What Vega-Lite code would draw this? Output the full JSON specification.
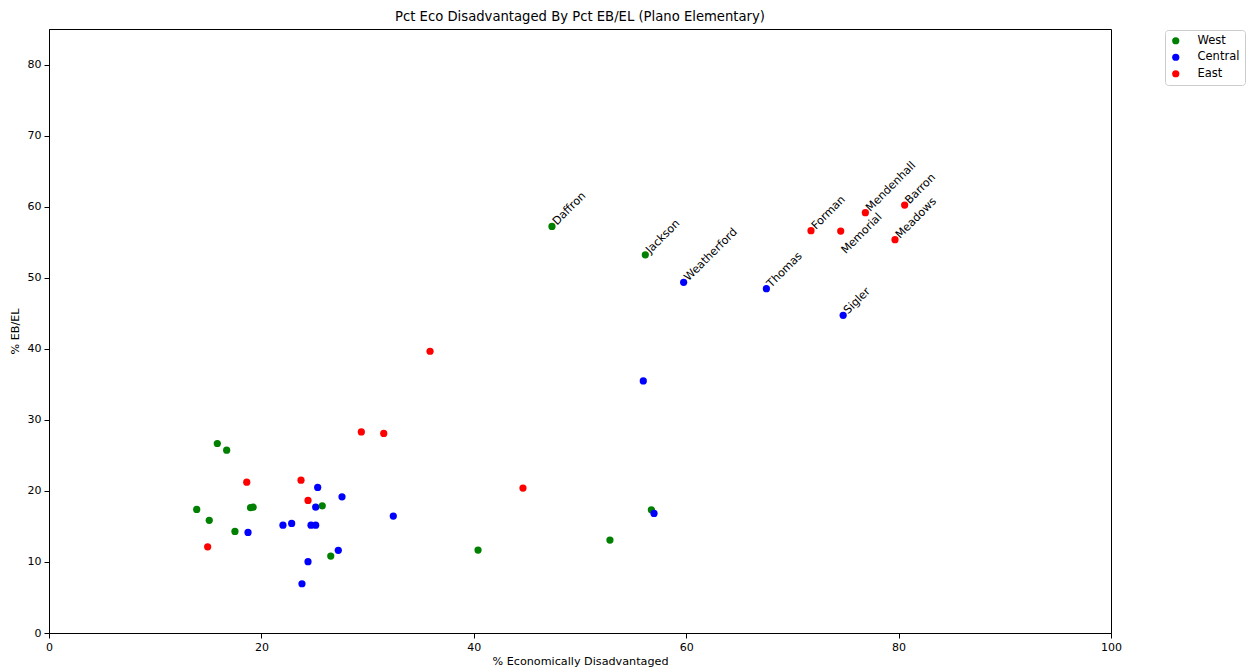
{
  "$schema": "https://vega.github.io/schema/vega-lite/v6.json",
  "width": 1062,
  "height": 604,
  "autosize": {"type": "none"},
  "padding": {"left": 49, "top": 29, "right": 136, "bottom": 36},
  "background": "white",
  "config": {
    "font": "DejaVu Sans",
    "view": {"stroke": "#000", "strokeWidth": 1},
    "axis": {
      "grid": false,
      "domainColor": "#000",
      "tickColor": "#000",
      "tickSize": 5,
      "labelFontSize": 11,
      "labelColor": "#000",
      "labelFlush": false,
      "titleFontSize": 11.2,
      "titleFontWeight": "normal",
      "titleColor": "#000",
      "labelPadding": 3
    },
    "title": {"fontSize": 13.2, "fontWeight": "normal", "color": "#000", "offset": 5}
  },
  "title": {"text": "Pct Eco Disadvantaged By Pct EB/EL (Plano Elementary)", "anchor": "middle"},
  "data": {
    "values": [
      {"school": null, "region": "West", "eco": 15.85, "ebel": 26.67},
      {"school": null, "region": "West", "eco": 16.73, "ebel": 25.73},
      {"school": null, "region": "West", "eco": 13.91, "ebel": 17.39},
      {"school": null, "region": "West", "eco": 15.09, "ebel": 15.85},
      {"school": null, "region": "West", "eco": 17.51, "ebel": 14.3},
      {"school": null, "region": "West", "eco": 18.98, "ebel": 17.64},
      {"school": null, "region": "West", "eco": 19.22, "ebel": 17.7},
      {"school": null, "region": "West", "eco": 25.73, "ebel": 17.9},
      {"school": null, "region": "West", "eco": 26.53, "ebel": 10.83},
      {"school": null, "region": "West", "eco": 40.4, "ebel": 11.67},
      {"school": null, "region": "West", "eco": 52.82, "ebel": 13.08},
      {"school": null, "region": "West", "eco": 56.72, "ebel": 17.34},
      {"school": "Daffron", "region": "West", "eco": 47.36, "ebel": 57.22},
      {"school": "Jackson", "region": "West", "eco": 56.15, "ebel": 53.22},
      {"school": null, "region": "Central", "eco": 25.3, "ebel": 20.48},
      {"school": null, "region": "Central", "eco": 27.59, "ebel": 19.16},
      {"school": null, "region": "Central", "eco": 25.11, "ebel": 17.72},
      {"school": null, "region": "Central", "eco": 32.42, "ebel": 16.45},
      {"school": null, "region": "Central", "eco": 18.74, "ebel": 14.16},
      {"school": null, "region": "Central", "eco": 22.03, "ebel": 15.18},
      {"school": null, "region": "Central", "eco": 22.85, "ebel": 15.42},
      {"school": null, "region": "Central", "eco": 24.67, "ebel": 15.18},
      {"school": null, "region": "Central", "eco": 25.11, "ebel": 15.18},
      {"school": null, "region": "Central", "eco": 27.24, "ebel": 11.63},
      {"school": null, "region": "Central", "eco": 24.39, "ebel": 10.03},
      {"school": null, "region": "Central", "eco": 23.82, "ebel": 6.93},
      {"school": null, "region": "Central", "eco": 55.96, "ebel": 35.47},
      {"school": null, "region": "Central", "eco": 56.97, "ebel": 16.83},
      {"school": "Weatherford", "region": "Central", "eco": 59.76, "ebel": 49.35},
      {"school": "Thomas", "region": "Central", "eco": 67.55, "ebel": 48.46},
      {"school": "Sigler", "region": "Central", "eco": 74.78, "ebel": 44.71},
      {"school": null, "region": "East", "eco": 29.41, "ebel": 28.3},
      {"school": null, "region": "East", "eco": 31.52, "ebel": 28.08},
      {"school": null, "region": "East", "eco": 18.62, "ebel": 21.23},
      {"school": null, "region": "East", "eco": 23.73, "ebel": 21.51},
      {"school": null, "region": "East", "eco": 24.39, "ebel": 18.66},
      {"school": null, "region": "East", "eco": 14.94, "ebel": 12.13},
      {"school": null, "region": "East", "eco": 35.88, "ebel": 39.65},
      {"school": null, "region": "East", "eco": 44.63, "ebel": 20.39},
      {"school": "Forman", "region": "East", "eco": 71.75, "ebel": 56.62},
      {"school": "Memorial", "region": "East", "eco": 74.55, "ebel": 56.57},
      {"school": "Mendenhall", "region": "East", "eco": 76.87, "ebel": 59.15},
      {"school": "Barron", "region": "East", "eco": 80.57, "ebel": 60.22},
      {"school": "Meadows", "region": "East", "eco": 79.66, "ebel": 55.35}
    ]
  },
  "encoding": {
    "x": {
      "field": "eco", "type": "quantitative",
      "scale": {"domain": [0, 100], "nice": false, "zero": false},
      "axis": {"values": [0, 20, 40, 60, 80, 100], "title": "% Economically Disadvantaged", "titlePadding": 3}
    },
    "y": {
      "field": "ebel", "type": "quantitative",
      "scale": {"domain": [0, 85], "nice": false, "zero": false},
      "axis": {"values": [0, 10, 20, 30, 40, 50, 60, 70, 80], "title": "% EB/EL", "titlePadding": 7}
    }
  },
  "layer": [
    {
      "mark": {"type": "circle", "opacity": 1, "size": 52},
      "encoding": {
        "color": {
          "field": "region", "type": "nominal",
          "scale": {"domain": ["West", "Central", "East"], "range": ["#008000", "#0000ff", "#ff0000"]},
          "legend": {
            "title": null,
            "orient": "none",
            "legendX": 1116,
            "legendY": 1,
            "strokeColor": "#cccccc",
            "fillColor": "white",
            "cornerRadius": 3,
            "padding": 5,
            "labelFontSize": 11.5,
            "labelColor": "#000",
            "symbolType": "circle",
            "symbolSize": 52,
            "symbolStrokeWidth": 0,
            "rowPadding": 3.5,
            "labelOffset": 16
          }
        }
      }
    },
    {
      "transform": [{"filter": "datum.school != null && datum.school != 'Memorial'"}],
      "mark": {"type": "text", "angle": 315, "align": "left", "baseline": "alphabetic", "dx": 4, "dy": 3, "fontSize": 11.2, "color": "#000"},
      "encoding": {"text": {"field": "school"}}
    },
    {
      "transform": [{"filter": "datum.school == 'Memorial'"}],
      "mark": {"type": "text", "angle": 315, "align": "left", "baseline": "alphabetic", "dx": -13, "dy": 20, "fontSize": 11.2, "color": "#000"},
      "encoding": {"text": {"field": "school"}}
    }
  ]
}
